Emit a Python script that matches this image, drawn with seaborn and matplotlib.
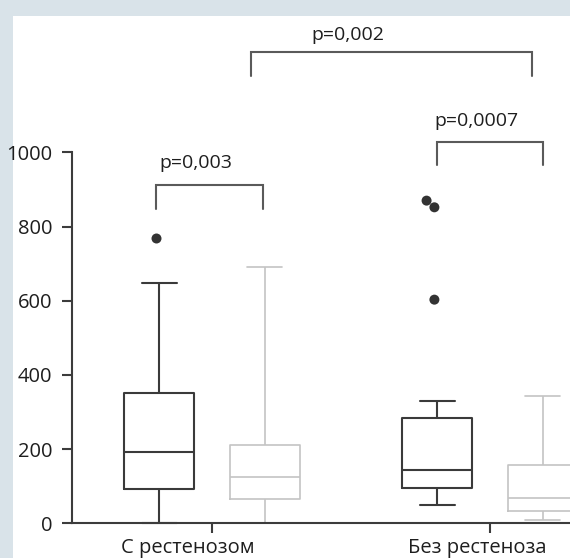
import numpy as np
import pandas as pd
import matplotlib
matplotlib.use('Agg')
import matplotlib.pyplot as plt
import matplotlib.transforms as mtransforms
import seaborn as sns

# categories and series (two box series per group)
groups = ['С рестенозом', 'Без рестеноза']
series = ['серия 1', 'серия 2']

# five-number summaries: low whisker, Q1, median, Q3, high whisker
g1_s1 = [2, 92, 192, 350, 649]
g1_s2 = [0, 66, 125, 211, 690]
g2_s1 = [48, 94, 143, 284, 331]
g2_s2 = [9, 34, 69, 158, 342]

# outliers (only in the dark series)
g1_s1_out = [770]
g2_s1_out = [870, 852, 603]

p_labels = ['p=0,003', 'p=0,0007', 'p=0,002']
y_ticks = [0, 200, 400, 600, 800, 1000]

# --- data frames ---
rows = []
for g, s, vals in [(groups[0], series[0], g1_s1), (groups[0], series[1], g1_s2),
                   (groups[1], series[0], g2_s1), (groups[1], series[1], g2_s2)]:
    rows += [{'group': g, 'series': s, 'value': v} for v in vals]
box_df = pd.DataFrame(rows)

out_rows = []
for g, s, vals in [(groups[0], series[0], g1_s1_out), (groups[1], series[0], g2_s1_out)]:
    out_rows += [{'group': g, 'series': s, 'value': v} for v in vals]
out_df = pd.DataFrame(out_rows)

# --- style ---
sns.set_style('ticks')
plt.rcParams['font.family'] = ['Open Sans', 'DejaVu Sans']
plt.rcParams['font.size'] = 14.5

frame_color = '#d9e3e9'
axis_color = '#3c3c3c'
text_color = '#1e1e1e'
palette = {series[0]: '#3a3a3a', series[1]: '#c4c4c4'}

fig = plt.figure(figsize=(5.7, 5.58), dpi=100)
fig.patch.set_facecolor(frame_color)
# white panel inside the grey-blue frame
fig.add_artist(plt.Rectangle((12.5 / 570, 0), 1, (558 - 16) / 558,
                             transform=fig.transFigure, facecolor='white',
                             edgecolor='none', zorder=-1))

ax = fig.add_axes([72 / 570, (558 - 523.3) / 558, 1 - 72 / 570, (523.3 - 16) / 558])
ax.set_facecolor('white')

sns.boxplot(data=box_df, x='group', y='value', hue='series',
            order=groups, hue_order=series, palette=palette,
            fill=False, width=0.76, gap=0.34, whis=(0, 100),
            showfliers=False, linewidth=1.5, legend=False, ax=ax)

# lighter series is drawn with a thinner pen in the original
for line in ax.lines:
    line.set_clip_on(False)
    if matplotlib.colors.to_hex(line.get_color()) == palette[series[1]]:
        line.set_linewidth(1.2)
for patch in ax.patches:
    patch.set_clip_on(False)
    if matplotlib.colors.to_hex(patch.get_edgecolor()) == palette[series[1]]:
        patch.set_linewidth(1.2)

sns.swarmplot(data=out_df, x='group', y='value', hue='series',
              order=groups, hue_order=series, dodge=True,
              palette={series[0]: '#333333', series[1]: '#333333'},
              size=7.2, legend=False, ax=ax)

ax.set_xlim(-0.5036, 1.2878)
ax.set_ylim(0, 1367.8)
ax.set_xlabel('')
ax.set_ylabel('')

# spines prism-style
sns.despine(ax=ax)
ax.spines['left'].set_bounds(0, 1000)
for side in ['left', 'bottom']:
    ax.spines[side].set_linewidth(1.5)
    ax.spines[side].set_color(axis_color)

ax.set_yticks(y_ticks)
ax.tick_params(axis='y', length=7.2, width=1.5, color=axis_color,
               labelcolor=text_color, pad=7, labelsize=14.5)
ax.tick_params(axis='x', length=7.2, width=1.5, color=axis_color,
               labelcolor=text_color, pad=3.5, labelsize=14.5)

# tick labels sit a bit left of their ticks in the original
label_shift_px = [-24, -13]
for lbl, dx in zip(ax.get_xticklabels(), label_shift_px):
    lbl.set_transform(lbl.get_transform() +
                      mtransforms.ScaledTranslation(dx / 100, 0, fig.dpi_scale_trans))

# significance brackets: (x left, x right, top, leg bottom, text x, text baseline)
bracket_layout = [
    (-0.201, 0.183, 913, 848, -0.057, 958),
    (0.808, 1.189, 1028, 967, 0.950, 1071),
    (0.139, 1.150, 1271, 1206, 0.490, 1302),
]
for (x0, x1, top, bottom, tx, ty), lab in zip(bracket_layout, p_labels):
    ax.plot([x0, x0, x1, x1], [bottom, top, top, bottom], color='#5a5a5a',
            lw=1.5, solid_joinstyle='miter', clip_on=False)
    ax.text(tx, ty, lab, ha='center', va='baseline', color=text_color, fontsize=14)

fig.savefig('out.png', dpi=100, facecolor=fig.get_facecolor())
